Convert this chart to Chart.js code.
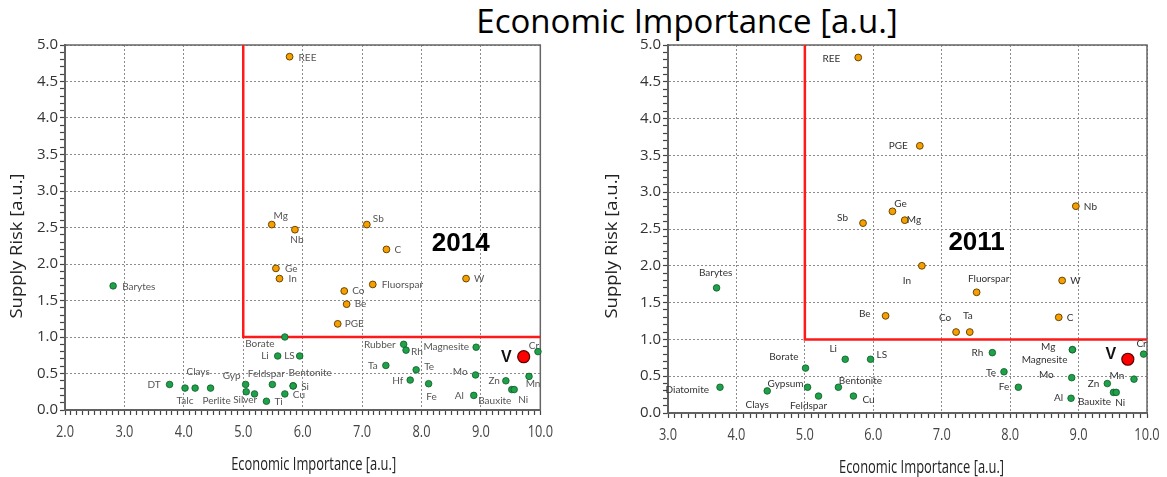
<!DOCTYPE html>
<html lang="en">
<head>
<meta charset="UTF-8">
<title>Economic Importance</title>
<script src="https://cdn.jsdelivr.net/npm/chart.js"></script>
<style>
  body { margin: 0; background: #fff; width: 1167px; height: 477px; position: relative; overflow: hidden; }
  #title { position: absolute; left: 387px; width: 600px; top: -2px; text-align: center;
           font: 33px "Open Sans", sans-serif; color: #000; }
  .box { position: absolute; top: 34px; height: 443px; }
</style>
</head>
<body>
<div id="title">Economic Importance [a.u.]</div>
<div class="box" style="left:0;width:560px"><canvas id="c2014"></canvas></div>
<div class="box" style="left:600px;width:567px"><canvas id="c2011"></canvas></div>
<script>
// ---- 2014 ----
const names14c = ['REE','Mg','Nb','Sb','C','Ge','In','W','Fluorspar','Co','Be','PGE'];
const x14c = [5.78,5.48,5.87,7.08,7.41,5.55,5.61,8.75,7.18,6.70,6.74,6.59];
const y14c = [4.84,2.54,2.47,2.54,2.20,1.94,1.80,1.80,1.72,1.63,1.45,1.18];

const names14n = ['Barytes','DT','Talc','Clays','Perlite','Gyp','Silver','','Ti','Feldspar','Cu','Si','Bentonite',
  'Borate','Li','LS','Rubber','Rh','Ta','Te','Hf','Fe','Magnesite','Mo','Al','Zn','Bauxite','Ni','Mn','Cr'];
const x14n = [2.81,3.76,4.02,4.19,4.45,5.04,5.05,5.19,5.39,5.49,5.70,5.84,5.84,
  5.70,5.58,5.95,7.70,7.74,7.40,7.91,7.81,8.12,8.92,8.91,8.88,9.42,9.52,9.56,9.81,9.96];
const y14n = [1.70,0.35,0.30,0.30,0.30,0.35,0.25,0.22,0.12,0.35,0.22,0.33,0.33,
  1.00,0.74,0.74,0.90,0.82,0.61,0.55,0.41,0.36,0.86,0.48,0.20,0.40,0.28,0.28,0.46,0.80];

const v14 = [9.72, 0.73];

// ---- 2011 ----
const names11c = ['REE','PGE','Nb','Ge','Mg','Sb','In','W','Fluorspar','Be','C','Co','Ta'];
const x11c = [5.78,6.68,8.96,6.28,6.46,5.85,6.71,8.76,7.51,6.18,8.71,7.21,7.41];
const y11c = [4.83,3.63,2.81,2.74,2.62,2.58,2.00,1.80,1.64,1.32,1.30,1.10,1.10];

const names11n = ['Barytes','Diatomite','Clays','Gypsum','Borate','Feldspar','Bentonite','Cu','Li','LS',
  'Rh','Te','Fe','Mg','Magnesite','Mo','Al','Zn','Mn','Bauxite','Ni','Cr'];
const x11n = [3.71,3.76,4.45,5.04,5.01,5.20,5.49,5.71,5.59,5.96,
  7.74,7.91,8.12,8.91,8.91,8.90,8.89,9.42,9.81,9.51,9.55,9.95];
const y11n = [1.70,0.35,0.30,0.35,0.61,0.23,0.35,0.23,0.73,0.73,
  0.82,0.56,0.35,0.86,0.86,0.48,0.20,0.40,0.46,0.28,0.28,0.80];

const v11 = [9.72, 0.73];

// criticality threshold (corner of the red region)
const thrX = 5.0, thrY = 1.0;

// label placement: [dx px, dy px, align]
const lab14c = { REE:[9,1,'left'], Mg:[9,-9,'center'], Nb:[2,10,'center'], Sb:[6,-6,'left'], C:[8,0,'left'],
  Ge:[9,0,'left'], In:[9,0,'left'], W:[8,0,'left'], Fluorspar:[9,0,'left'], Co:[8,0,'left'], Be:[8,0,'left'], PGE:[7,0,'left'] };
const lab14n = { Barytes:[9,1,'left'], DT:[-9,0,'right'], Talc:[0,13,'center'], Clays:[3,-16,'center'], Perlite:[6,13,'center'],
  Gyp:[-14,-9,'center'], Silver:[-1,8,'center'], Ti:[8,1,'left'], Feldspar:[-6,-11,'center'], Cu:[8,1,'left'], Si:[8,1,'left'],
  Bentonite:[17,-13,'center'], Borate:[-25,7,'center'], Li:[-9,0,'right'], LS:[-5,0,'right'], Rubber:[-8,0,'right'],
  Rh:[5,2,'left'], Ta:[-8,0,'right'], Te:[8,-3,'left'], Hf:[-7,1,'right'], Fe:[3,13,'center'], Magnesite:[-7,0,'right'],
  Mo:[-8,-3,'right'], Al:[-10,0,'right'], Zn:[-6,0,'right'], Bauxite:[-17,11,'center'], Ni:[9,10,'center'],
  Mn:[4,7,'center'], Cr:[-4,-6,'center'] };
const lab11c = { REE:[-18,1,'right'], Sb:[-15,-5,'right'], PGE:[-12,0,'right'], Ge:[8,-8,'center'], Mg:[2,0,'left'],
  Nb:[8,1,'left'], In:[-15,15,'center'], W:[8,0,'left'], Fluorspar:[12,-14,'center'], C:[8,0,'left'],
  Co:[-11,-14,'center'], Ta:[-2,-16,'center'], Be:[-15,-2,'right'] };
const lab11n = { Barytes:[-1,-15,'center'], Diatomite:[-11,3,'right'], Clays:[-10,14,'center'], Gypsum:[-22,-3,'center'],
  Borate:[-7,-11,'right'], Feldspar:[-10,10,'center'], Bentonite:[22,-6,'center'], Cu:[9,4,'left'], Li:[-12,-10,'center'],
  LS:[6,-4,'left'], Rh:[-9,0,'right'], Te:[-8,1,'right'], Fe:[-9,0,'right'], Mg:[-17,-3,'right'], Magnesite:[-5,10,'right'],
  Mo:[-18,-3,'right'], Al:[-8,0,'right'], Zn:[-8,0,'right'], Mn:[-17,-3,'center'], Bauxite:[-19,9,'center'],
  Ni:[4,10,'center'], Cr:[-2,-10,'center'] };

const pts = (xs, ys) => xs.map((x, i) => ({ x: x, y: ys[i] }));
const isHalf = v => Math.abs(v * 2 - Math.round(v * 2)) < 1e-6;
const isInt = v => Math.abs(v - Math.round(v)) < 1e-6;

// text squeezed/stretched to a given width (the source picture is not square-scaled)
function fitText(ctx, txt, x, y, w, rot) {
  ctx.save();
  ctx.translate(x, y);
  if (rot) ctx.rotate(rot);
  ctx.scale(w / ctx.measureText(txt).width, 1);
  ctx.fillText(txt, 0, 0);
  ctx.restore();
}

const labelPlugin = {
  id: 'labels',
  beforeDatasetsDraw(chart) {
    const a = chart.chartArea, ctx = chart.ctx, o = chart.options.plugins.deco;
    ctx.save();
    ctx.strokeStyle = '#666';
    ctx.lineWidth = 1.5;
    ctx.strokeRect(a.left, a.top, a.right - a.left, a.bottom - a.top);
    ctx.font = 'bold 26px Arial, "Liberation Sans", sans-serif';
    ctx.fillStyle = '#000';
    ctx.textAlign = 'center';
    ctx.textBaseline = 'middle';
    ctx.fillText(o.year, chart.scales.x.getPixelForValue(o.yearX), chart.scales.y.getPixelForValue(o.yearY));

    // x tick labels (integers only), condensed
    const sx = chart.scales.x;
    ctx.font = '16px "Open Sans", sans-serif';
    ctx.fillStyle = '#444';
    sx.ticks.forEach(t => {
      if (!isInt(t.value)) return;
      const s = t.value.toFixed(1);
      fitText(ctx, s, sx.getPixelForValue(t.value), a.bottom + 22, ctx.measureText(s).width * 0.8, 0);
    });
    // axis titles
    ctx.fillStyle = '#222';
    ctx.font = '19px "Open Sans", sans-serif';
    fitText(ctx, 'Economic Importance [a.u.]', (a.left + a.right) / 2 + o.xtDx, a.bottom + 55, 165, 0);
    ctx.font = '17px "Open Sans", sans-serif';
    fitText(ctx, 'Supply Risk [a.u.]', o.ytX, a.top + 201, 145, -Math.PI / 2);
    ctx.restore();
  },
  afterDatasetsDraw(chart) {
    const ctx = chart.ctx;
    chart.data.datasets.forEach((ds, i) => {
      if (!ds.names) return;
      const meta = chart.getDatasetMeta(i);
      ctx.save();
      ctx.font = ds.labelFont;
      ctx.fillStyle = ds.labelColor;
      ctx.textBaseline = 'middle';
      meta.data.forEach((el, j) => {
        const name = ds.names[j];
        if (!name) return;
        const p = ds.labelPos[name] || [8, 0, 'left'];
        ctx.textAlign = p[2];
        ctx.fillText(name, el.x + p[0], el.y + p[1]);
      });
      ctx.restore();
    });
  }
};

function makeChart(id, cfg) {
  return new Chart(document.getElementById(id), {
    type: 'scatter',
    data: {
      datasets: [
        { names: ['V'], labelPos: { V: cfg.vLab }, labelFont: 'bold 16px Arial, sans-serif', labelColor: '#111',
          data: [{ x: cfg.v[0], y: cfg.v[1] }], pointRadius: 6, backgroundColor: '#ff0000', borderColor: '#5a0000',
          borderWidth: 1.2, clip: false, order: 1 },
        { names: cfg.cNames, labelPos: cfg.cLab, labelFont: cfg.labFont, labelColor: cfg.labColor,
          data: pts(cfg.cx, cfg.cy), pointRadius: 3.4, backgroundColor: '#f5a000', borderColor: '#6b4500',
          borderWidth: 1, clip: false, order: 2 },
        { names: cfg.nNames, labelPos: cfg.nLab, labelFont: cfg.labFont, labelColor: cfg.labColor,
          data: pts(cfg.nx, cfg.ny), pointRadius: 3.3, backgroundColor: '#1fa14a', borderColor: '#0d5a26',
          borderWidth: 0.8, clip: false, order: 3 },
        { type: 'line', data: [{ x: thrX, y: 5 }, { x: thrX, y: thrY }, { x: 10, y: thrY }],
          borderColor: '#ff1a1a', borderWidth: 2.5, pointRadius: 0, fill: false, order: 10 }
      ]
    },
    options: {
      responsive: true,
      maintainAspectRatio: false,
      animation: false,
      layout: { padding: { top: 10, right: cfg.padRight, left: 0, bottom: 0 } },
      plugins: { legend: { display: false }, tooltip: { enabled: false }, deco: cfg.deco },
      scales: {
        x: {
          type: 'linear', min: cfg.xmin, max: 10,
          afterFit: s => { s.height = cfg.xH; },
          ticks: { stepSize: 0.1, autoSkip: false, maxRotation: 0, padding: 8, color: 'rgba(0,0,0,0)',
                   font: { size: 12 }, callback: v => isInt(v) ? v.toFixed(1) : '' },
          grid: { color: c => (c.tick && isInt(c.tick.value)) ? '#8c8c8c' : 'rgba(0,0,0,0)',
                  tickColor: '#444', tickLength: 5, tickWidth: 1.2, lineWidth: 1 },
          border: { color: '#555', width: 2, dash: [2, 2] }
        },
        y: {
          type: 'linear', min: 0, max: 5,
          afterFit: s => { s.width = cfg.yW; },
          ticks: { stepSize: 0.1, autoSkip: false, padding: 2, color: '#333',
                   font: { family: '"Open Sans", sans-serif', size: 15 },
                   callback: v => isHalf(v) ? v.toFixed(1) : '' },
          grid: { color: c => (c.tick && isHalf(c.tick.value)) ? '#8c8c8c' : 'rgba(0,0,0,0)',
                  tickColor: '#444', tickLength: 5, tickWidth: 1.2, lineWidth: 1 },
          border: { color: '#555', width: 2, dash: [2, 2] }
        }
      }
    },
    plugins: [labelPlugin]
  });
}

makeChart('c2014', {
  v: v14, vLab: [-12, 1, 'right'],
  cNames: names14c, cx: x14c, cy: y14c, cLab: lab14c,
  nNames: names14n, nx: x14n, ny: y14n, nLab: lab14n,
  labFont: '10px Lato, sans-serif', labColor: '#555',
  xmin: 2, padRight: 18, xH: 67, yW: 65,
  deco: { year: '2014', yearX: 8.66, yearY: 2.28, xtDx: 11, ytX: 17 }
});

makeChart('c2011', {
  v: v11, vLab: [-17, -5, 'center'],
  cNames: names11c, cx: x11c, cy: y11c, cLab: lab11c,
  nNames: names11n, nx: x11n, ny: y11n, nLab: lab11n,
  labFont: '10px Lato, sans-serif', labColor: '#333',
  xmin: 3, padRight: 20, xH: 64, yW: 68,
  deco: { year: '2011', yearX: 7.51, yearY: 2.31, xtDx: 14, ytX: 12 }
});
</script>
</body>
</html>
